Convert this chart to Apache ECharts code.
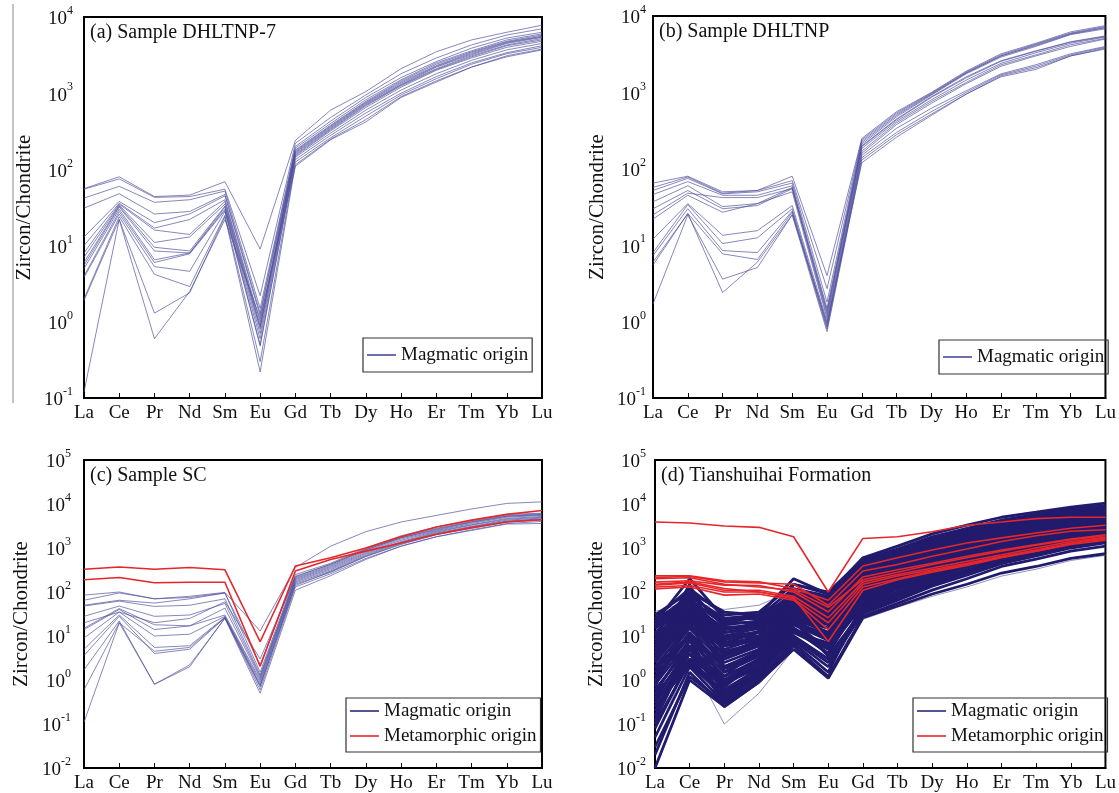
<!DOCTYPE html>
<html>
<head>
<meta charset="utf-8">
<script src="https://cdn.jsdelivr.net/npm/echarts@6/dist/echarts.min.js"></script>
<style>
  html, body { margin: 0; padding: 0; background: #fff; }
  #main { width: 1119px; height: 793px; }
</style>
</head>
<body>
<div id="main"></div>
<script>
// REE elements on the x axis
const elements = ['La', 'Ce', 'Pr', 'Nd', 'Sm', 'Eu', 'Gd', 'Tb', 'Dy', 'Ho', 'Er', 'Tm', 'Yb', 'Lu'];

// (a) Sample DHLTNP-7, magmatic zircons
const magA = [
  [56, 80, 44, 46, 69, 9, 240, 600, 1050, 2100, 3500, 5000, 6300, 7800],
  [55, 75, 43, 44, 55, 2.2, 220, 480, 950, 1800, 2900, 4300, 5800, 7000],
  [42, 60, 37, 40, 52, 1.5, 200, 430, 880, 1600, 2600, 3900, 5300, 6300],
  [31, 48, 26, 28, 47, 1.3, 190, 400, 820, 1500, 2500, 3600, 5000, 6000],
  [13, 38, 20, 26, 45, 1.2, 180, 380, 780, 1450, 2400, 3500, 4800, 5800],
  [10, 36, 17, 22, 40, 1.0, 175, 370, 760, 1400, 2300, 3400, 4700, 5600],
  [8, 35, 16, 14, 38, 0.9, 170, 360, 740, 1350, 2250, 3300, 4600, 5500],
  [7, 34, 11, 13, 35, 0.85, 165, 350, 720, 1300, 2200, 3200, 4500, 5400],
  [6, 33, 9.5, 8.5, 33, 0.8, 160, 340, 700, 1280, 2100, 3100, 4300, 5200],
  [5.5, 32, 8.5, 8, 32, 0.7, 155, 330, 680, 1250, 2050, 3000, 4200, 5000],
  [5, 30, 6.5, 8, 30, 0.6, 150, 320, 650, 1200, 2000, 2900, 4000, 4800],
  [4, 28, 6, 7.8, 29, 0.5, 145, 300, 600, 1100, 1800, 2700, 3700, 4500],
  [3.8, 26, 5.3, 4.6, 28, 0.48, 135, 280, 550, 1000, 1650, 2500, 3400, 4200],
  [2, 24, 4.2, 2.9, 25, 0.3, 125, 260, 500, 950, 1550, 2400, 3300, 4000],
  [1.9, 22, 1.3, 2.4, 24, 0.22, 115, 250, 450, 900, 1450, 2200, 3100, 3800],
  [0.12, 22, 0.6, 2.5, 22, 1.1, 110, 245, 420, 880, 1400, 2200, 3000, 3700]
];

// (b) Sample DHLTNP, magmatic zircons
const magB = [
  [65, 80, 50, 52, 80, 4, 250, 560, 1000, 1900, 3200, 4400, 6200, 7500],
  [57, 78, 48, 52, 70, 2.7, 240, 540, 980, 1850, 3100, 4300, 6000, 7300],
  [52, 75, 47, 50, 65, 1.8, 230, 520, 960, 1800, 3000, 4200, 5900, 7100],
  [46, 68, 45, 45, 60, 1.5, 220, 500, 940, 1800, 3000, 4100, 5800, 7000],
  [37, 60, 32, 35, 57, 1.3, 210, 480, 920, 1750, 2900, 4000, 5700, 6800],
  [30, 52, 30, 33, 55, 1.2, 200, 450, 880, 1600, 2600, 3500, 4600, 5500],
  [25, 48, 42, 42, 55, 1.4, 195, 440, 860, 1550, 2550, 3450, 4550, 5400],
  [22, 45, 27, 35, 50, 1.1, 185, 420, 800, 1450, 2400, 3300, 4400, 5300],
  [12, 35, 13.5, 15.5, 33, 1.0, 170, 400, 760, 1350, 2300, 3100, 4200, 5100],
  [8, 34, 10.5, 12.5, 30, 0.9, 160, 380, 720, 1300, 2200, 3000, 4000, 5000],
  [7.3, 30, 8.5, 8, 28, 0.85, 150, 340, 620, 1050, 1750, 2300, 3200, 4000],
  [6, 26, 7.7, 6.5, 27, 0.8, 140, 300, 560, 1000, 1700, 2200, 3100, 3900],
  [1.7, 25, 3.6, 5.1, 25, 0.74, 130, 280, 520, 950, 1650, 2100, 3000, 3800],
  [5.5, 26, 2.4, 6, 25, 0.95, 120, 260, 500, 950, 1600, 2000, 3000, 3700]
];

// (c) Sample SC
const magC = [
  [85, 100, 70, 80, 98, 13, 360, 1100, 2350, 3900, 5500, 7700, 10300, 11200],
  [65, 95, 70, 75, 95, 2.2, 250, 450, 1000, 1900, 3000, 4200, 5800, 6200],
  [50, 65, 56, 70, 95, 1.5, 230, 420, 950, 1800, 2800, 4000, 5500, 6000],
  [48, 62, 47, 50, 70, 1.3, 210, 400, 900, 1700, 2600, 3800, 5200, 5700],
  [28, 48, 28, 30, 55, 1.2, 200, 380, 850, 1600, 2500, 3600, 5000, 5500],
  [20, 35, 20, 25, 60, 3.0, 220, 430, 920, 1700, 2700, 3900, 5300, 5800],
  [15, 42, 18, 17, 43, 1.1, 190, 360, 800, 1500, 2400, 3400, 4700, 5200],
  [14, 40, 14, 17, 30, 1.0, 180, 340, 760, 1400, 2300, 3300, 4500, 5000],
  [9, 35, 10, 11, 28, 0.9, 170, 320, 720, 1350, 2200, 3100, 4300, 4800],
  [5, 30, 5.5, 6, 27, 0.8, 160, 300, 680, 1300, 2100, 3000, 4100, 4600],
  [3.6, 28, 4, 5, 26, 0.7, 150, 280, 640, 1200, 2000, 2800, 3900, 4300],
  [0.11, 20, 4.5, 5.5, 26, 0.75, 140, 290, 650, 1250, 2050, 2900, 4000, 4500],
  [1.7, 22, 0.8, 2, 26, 0.6, 130, 260, 580, 1100, 1800, 2600, 3600, 4000],
  [0.6, 20, 0.8, 2.2, 25, 0.5, 110, 235, 550, 1100, 1800, 2500, 3500, 3600]
];
const metC = [
  [330, 370, 330, 360, 320, 7.4, 390, 600, 1000, 1800, 3000, 4300, 5800, 7100],
  [190, 213, 162, 167, 167, 2.05, 300, 550, 850, 1300, 2050, 2900, 3900, 4400]
];

// (d) Tianshuihai Formation
const magD = [
  [20, 200, 25, 30, 200, 90, 600, 1100, 2100, 3300, 5000, 6500, 8500, 10500],
  [25, 120, 30, 35, 150, 100, 550, 950, 1800, 2800, 4300, 5800, 7600, 9200],
  [18, 90, 20, 28, 120, 80, 480, 850, 1600, 2500, 3800, 5200, 6900, 8300],
  [15, 70, 18, 22, 100, 70, 420, 760, 1400, 2250, 3400, 4700, 6300, 7500],
  [12, 60, 14, 20, 90, 65, 380, 700, 1300, 2100, 3200, 4500, 6000, 7200],
  [10, 50, 12, 17, 80, 60, 340, 640, 1200, 1950, 3000, 4200, 5600, 6700],
  [8, 45, 10, 15, 75, 55, 300, 580, 1100, 1800, 2800, 3900, 5200, 6300],
  [6, 40, 8, 13, 70, 50, 270, 520, 1000, 1650, 2600, 3600, 4800, 5800],
  [5, 35, 7, 12, 60, 45, 240, 470, 900, 1500, 2400, 3400, 4600, 5500],
  [4, 30, 6, 10, 55, 40, 210, 420, 800, 1350, 2150, 3100, 4200, 5100],
  [3, 25, 5, 9, 50, 35, 190, 380, 730, 1250, 2000, 2900, 3900, 4800],
  [2.5, 22, 4, 8, 45, 30, 170, 340, 660, 1100, 1800, 2600, 3600, 4400],
  [2, 18, 3, 6, 40, 25, 150, 300, 590, 1000, 1650, 2400, 3300, 4100],
  [1.5, 15, 2.5, 5, 35, 22, 130, 260, 520, 900, 1500, 2200, 3000, 3800],
  [1.2, 12, 2, 4, 30, 18, 115, 230, 460, 800, 1350, 2000, 2800, 3500],
  [1, 10, 1.5, 3.5, 28, 15, 100, 200, 400, 700, 1200, 1800, 2500, 3200],
  [0.8, 8, 1.2, 3, 25, 12, 90, 180, 360, 630, 1100, 1600, 2300, 2900],
  [0.6, 6, 1, 2.5, 20, 10, 80, 160, 320, 560, 980, 1450, 2100, 2700],
  [0.4, 5, 0.8, 2, 18, 8, 70, 140, 280, 500, 880, 1300, 1900, 2400],
  [0.3, 4, 0.6, 1.8, 15, 6, 60, 120, 250, 440, 780, 1150, 1700, 2200],
  [0.2, 3, 0.5, 1.5, 12, 5, 50, 100, 210, 380, 680, 1000, 1500, 1950],
  [0.1, 2.5, 0.4, 1.2, 10, 3, 42, 85, 180, 320, 580, 870, 1300, 1700],
  [0.05, 2, 0.3, 1, 8, 2, 35, 70, 150, 270, 490, 740, 1100, 1450],
  [0.02, 1.5, 0.25, 0.9, 6, 1.2, 28, 55, 110, 200, 380, 560, 850, 1100],
  [0.01, 1, 0.25, 0.9, 5, 1.1, 26, 48, 90, 150, 270, 380, 580, 740],
  [30, 100, 35, 30, 80, 50, 100, 200, 380, 650, 1100, 1600, 2300, 2900],
  [22, 80, 25, 25, 60, 30, 60, 130, 270, 480, 850, 1250, 1850, 2400],
  [15, 60, 20, 20, 40, 20, 45, 95, 200, 360, 650, 950, 1400, 1800],
  [8, 50, 15, 18, 30, 15, 35, 75, 160, 290, 520, 770, 1150, 1500],
  [0.5, 8, 0.5, 2, 60, 60, 500, 900, 1700, 2700, 4100, 5600, 7400, 9000],
  [0.2, 4, 0.3, 1, 30, 40, 400, 780, 1450, 2300, 3500, 4900, 6500, 7900],
  [1, 20, 0.8, 3, 50, 80, 320, 620, 1150, 1900, 2900, 4100, 5500, 6600],
  [0.08, 3, 0.4, 1.5, 20, 20, 250, 500, 950, 1600, 2500, 3500, 4800, 5800],
  [5, 150, 4, 6, 150, 90, 200, 400, 780, 1300, 2100, 3000, 4100, 5000],
  [3, 100, 2, 4, 100, 70, 160, 330, 650, 1100, 1800, 2650, 3700, 4500],
  [12, 30, 10, 12, 25, 8, 130, 270, 540, 950, 1600, 2350, 3300, 4100],
  [6, 20, 6, 8, 20, 5, 90, 190, 390, 700, 1200, 1800, 2600, 3300],
  [2, 10, 2, 4, 15, 4, 70, 150, 310, 570, 1000, 1500, 2200, 2800],
  [0.03, 1.2, 0.3, 1, 7, 1.5, 55, 120, 260, 480, 860, 1300, 1950, 2550],
  [0.3, 3, 1, 3, 12, 6, 150, 330, 650, 1150, 1900, 2800, 3900, 4900],
  [1.5, 6, 3, 6, 25, 15, 280, 560, 1050, 1750, 2750, 3900, 5300, 6400],
  [4, 15, 6, 10, 40, 30, 400, 800, 1500, 2400, 3700, 5200, 6900, 8400],
  [10, 35, 12, 15, 80, 70, 360, 700, 1300, 2150, 3300, 4700, 6300, 7700],
  [0.7, 40, 1.5, 4, 50, 20, 220, 440, 850, 1400, 2250, 3250, 4400, 5400],
  [25, 60, 22, 28, 70, 45, 180, 350, 680, 1150, 1900, 2800, 3900, 4800],
  [0.15, 8, 1.2, 5, 50, 50, 120, 260, 520, 900, 1550, 2300, 3300, 4200],
  [18, 70, 9, 10, 45, 25, 260, 500, 950, 1600, 2550, 3700, 5000, 6100],
  [7, 55, 4.5, 7, 35, 18, 230, 450, 870, 1450, 2350, 3400, 4600, 5600],
  [2.8, 35, 1.8, 3.5, 28, 12, 200, 400, 780, 1300, 2100, 3050, 4200, 5100],
  [0.9, 12, 0.6, 1.6, 18, 9, 175, 350, 690, 1180, 1950, 2800, 3850, 4700],
  [0.35, 6, 0.35, 1.2, 14, 4, 140, 290, 580, 1000, 1650, 2450, 3400, 4200],
  [9, 25, 7, 9, 35, 28, 85, 175, 350, 610, 1050, 1550, 2250, 2850],
  [4.5, 18, 4, 7, 28, 20, 75, 155, 310, 540, 940, 1400, 2050, 2600],
  [1.8, 9, 2, 4.5, 20, 11, 65, 135, 270, 470, 830, 1250, 1800, 2350],
  [0.45, 4, 0.9, 2.2, 12, 7, 55, 115, 230, 410, 730, 1100, 1650, 2150],
  [16, 45, 14, 18, 65, 50, 450, 880, 1650, 2600, 3950, 5500, 7200, 8800],
  [11, 110, 16, 16, 90, 75, 320, 640, 1200, 1950, 3000, 4300, 5800, 7000],
  [0.12, 5, 0.7, 2.8, 22, 3.5, 38, 80, 165, 300, 540, 810, 1230, 1600],
  [3.5, 28, 3.5, 6.5, 42, 35, 110, 225, 450, 780, 1320, 1950, 2800, 3500],
  [0.25, 2.2, 0.45, 1.4, 9, 2.5, 32, 65, 135, 240, 440, 660, 1000, 1300]
];
const magDThin = [
  [36, 60, 40, 50, 110, 90, 250, 480, 900, 1500, 2400, 3500, 4800, 5800],
  [0.05, 3, 0.1, 0.5, 5, 2, 24, 45, 80, 130, 230, 330, 520, 680]
];
const metD = [
  [3900, 3700, 3150, 2950, 1800, 100, 1650, 1800, 2350, 3300, 3900, 4650, 5000, 5000],
  [234, 234, 180, 170, 120, 65, 390, 600, 900, 1300, 1700, 2200, 2800, 3300],
  [215, 225, 170, 160, 150, 50, 300, 420, 650, 950, 1400, 1900, 2400, 2600],
  [200, 210, 150, 130, 110, 45, 190, 280, 420, 600, 850, 1150, 1550, 1900],
  [168, 180, 143, 140, 100, 35, 220, 320, 450, 650, 900, 1200, 1600, 2000],
  [150, 170, 120, 100, 75, 7.5, 110, 190, 280, 400, 600, 850, 1250, 1700],
  [143, 160, 110, 110, 80, 26, 170, 250, 350, 500, 700, 1000, 1400, 1750],
  [130, 140, 100, 100, 70, 20, 150, 230, 320, 450, 650, 900, 1300, 1600],
  [118, 130, 85, 90, 65, 14, 130, 200, 300, 420, 620, 850, 1200, 1500]
];

const titles = ['(a) Sample DHLTNP-7', '(b) Sample DHLTNP', '(c) Sample SC', '(d) Tianshuihai Formation'];

const SERIF = '"Liberation Serif", "DejaVu Serif", serif';
const MAG = 'Magmatic origin';
const MET = 'Metamorphic origin';

const panels = [
  { left: 84, top: 17, width: 458, height: 381, min: 0.1, max: 1e4, nameGap: 49, labelMargin: 11 },
  { left: 653, top: 16, width: 458, height: 382, min: 0.1, max: 1e4, nameGap: 45, labelMargin: 7 },
  { left: 84, top: 460, width: 458, height: 312, min: 0.01, max: 1e5, nameGap: 52, labelMargin: 13 },
  { left: 655, top: 460, width: 458, height: 312, min: 0.01, max: 1e5, nameGap: 48, labelMargin: 9 }
];

function lines(rows, name, idx, style, z) {
  return rows.map(r => ({
    type: 'line',
    name: name,
    xAxisIndex: idx,
    yAxisIndex: idx,
    data: r,
    symbol: 'none',
    silent: true,
    z: z,
    lineStyle: style,
    emphasis: { disabled: true }
  }));
}

const thinBlue = { color: '#4d4d9c', width: 0.8, opacity: 0.85 };
const darkBlue = { color: '#221b6d', width: 2.8 };
const red = { color: '#e5262a', width: 1.6 };

const series = [].concat(
  lines(magA, MAG, 0, thinBlue, 2),
  lines(magB, MAG, 1, thinBlue, 2),
  lines(magC, MAG, 2, thinBlue, 2),
  lines(metC, MET, 2, red, 3),
  lines(magDThin, MAG, 3, { color: '#7777aa', width: 0.8 }, 2),
  lines(magD, MAG, 3, darkBlue, 2),
  lines(metD, MET, 3, red, 3)
);

function expLabel(v) {
  const e = Math.round(Math.log10(v));
  return '{b|10}{s|' + e + '}';
}

const option = {
  animation: false,
  backgroundColor: '#fff',
  title: titles.map((t, i) => ({
    text: t,
    left: panels[i].left + 6,
    top: panels[i].top + 6,
    padding: 0,
    textStyle: { fontFamily: SERIF, fontSize: 20, fontWeight: 'normal', color: '#111' }
  })),
  grid: panels.map(p => ({
    left: p.left, top: p.top, width: p.width, height: p.height,
    show: true, borderColor: '#000', borderWidth: 2, containLabel: false
  })),
  xAxis: panels.map((p, i) => ({
    type: 'category',
    gridIndex: i,
    data: elements,
    boundaryGap: false,
    axisLine: { lineStyle: { color: '#000', width: 2 } },
    axisTick: { inside: true, length: 5, lineStyle: { color: '#000', width: 1 } },
    axisLabel: { fontFamily: SERIF, fontSize: 19, color: '#111', margin: 6, interval: 0 },
    splitLine: { show: false }
  })),
  yAxis: panels.map((p, i) => ({
    type: 'log',
    logBase: 10,
    gridIndex: i,
    min: p.min,
    max: p.max,
    interval: 1,
    name: 'Zircon/Chondrite',
    nameLocation: 'middle',
    nameGap: p.nameGap,
    nameTextStyle: { fontFamily: SERIF, fontSize: 21, color: '#111' },
    axisLine: { show: true, lineStyle: { color: '#000', width: 2 } },
    axisTick: { inside: true, length: 5, lineStyle: { color: '#000', width: 1 } },
    minorTick: { show: false },
    splitLine: { show: false },
    axisLabel: {
      margin: p.labelMargin,
      formatter: expLabel,
      rich: {
        b: { fontFamily: SERIF, fontSize: 19, color: '#111', lineHeight: 24, verticalAlign: 'bottom' },
        s: { fontFamily: SERIF, fontSize: 12, color: '#111', lineHeight: 12, verticalAlign: 'top' }
      }
    }
  })),
  legend: [
    { left: 363, top: 338, padding: [7, 4, 7, 4], items: [MAG], color: '#4a4a9a' },
    { left: 939, top: 340, padding: [7, 4, 7, 4], items: [MAG], color: '#4a4a9a' },
    { left: 346, top: 698, padding: [3, 4, 6, 4], items: [MAG, MET], color: '#2a2a7a' },
    { left: 913, top: 698, padding: [3, 4, 6, 4], items: [MAG, MET], color: '#2a2a7a' }
  ].map(l => ({
    left: l.left,
    top: l.top,
    orient: 'vertical',
    padding: l.padding,
    itemGap: 5,
    itemWidth: 29,
    itemHeight: 1.6,
    icon: 'rect',
    borderColor: '#333',
    borderWidth: 1.2,
    selectedMode: false,
    textStyle: { fontFamily: SERIF, fontSize: 19, color: '#111', lineHeight: 20 },
    data: l.items.map(n => ({
      name: n,
      itemStyle: { color: n === MAG ? l.color : '#e5262a', borderWidth: 0 }
    }))
  })),
  graphic: [
    { type: 'line', silent: true, shape: { x1: 13, y1: 4, x2: 13, y2: 403 }, style: { stroke: '#888', lineWidth: 1 } }
  ],
  series: series
};

const chart = echarts.init(document.getElementById('main'), null, { renderer: 'canvas' });
chart.setOption(option);
</script>
</body>
</html>
